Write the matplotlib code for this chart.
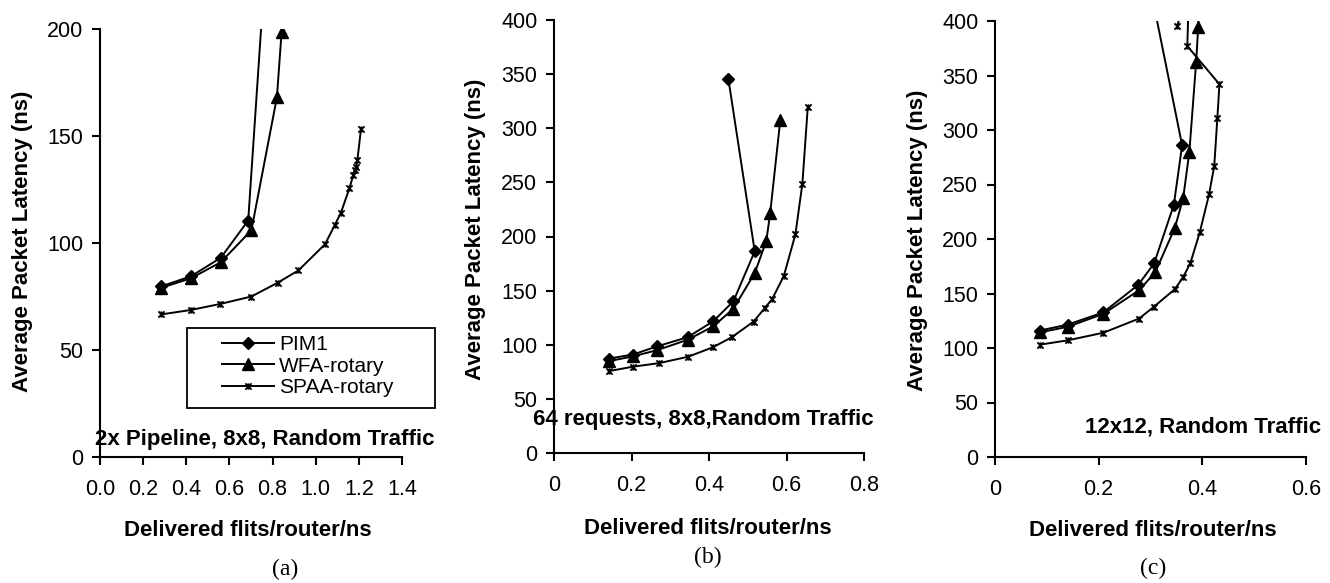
import matplotlib
matplotlib.use('Agg')
import matplotlib.pyplot as plt
from matplotlib.path import Path
from matplotlib.patches import Rectangle

plt.rcParams['font.family'] = ['Liberation Sans', 'DejaVu Sans']

# panel (a): 2x Pipeline, 8x8
a_pim_x = [0.282, 0.421, 0.560, 0.687, 0.780]
a_pim_y = [79.7, 84.4, 93.1, 110.5, 250]
a_wfa_x = [0.282, 0.421, 0.560, 0.702, 0.820, 0.842]
a_wfa_y = [79.0, 83.5, 91.0, 106.0, 168.0, 198.8]
a_spaa_x = [0.282, 0.421, 0.557, 0.702, 0.823, 0.920, 1.043, 1.089, 1.117,
            1.156, 1.174, 1.182, 1.187, 1.193, 1.210]
a_spaa_y = [66.6, 68.7, 71.5, 75.0, 81.4, 87.2, 99.4, 108.5, 114.2,
            125.5, 131.6, 134.3, 135.7, 138.6, 153.4]

# panel (b): 64 requests, 8x8
b_pim_x = [0.141, 0.203, 0.266, 0.345, 0.411, 0.463, 0.518, 0.450]
b_pim_y = [87.2, 90.9, 98.5, 107.0, 121.7, 140.2, 186.3, 345.6]
b_wfa_x = [0.141, 0.203, 0.266, 0.345, 0.411, 0.463, 0.518, 0.548, 0.558, 0.584]
b_wfa_y = [84.8, 89.2, 95.0, 104.6, 117.0, 133.3, 166.2, 196.0, 222.0, 307.7]
b_spaa_x = [0.141, 0.203, 0.271, 0.346, 0.411, 0.459, 0.515, 0.545, 0.563,
            0.593, 0.623, 0.641, 0.655]
b_spaa_y = [75.6, 79.7, 83.0, 88.9, 97.8, 107.0, 121.4, 134.4, 142.2,
            163.4, 202.0, 248.9, 320.0]

# panel (c): 12x12
c_pim_x = [0.086, 0.140, 0.209, 0.276, 0.307, 0.345, 0.361, 0.300]
c_pim_y = [116.0, 121.4, 132.7, 157.8, 177.6, 231.3, 286.0, 430.0]
c_wfa_x = [0.086, 0.140, 0.209, 0.278, 0.309, 0.347, 0.363, 0.375, 0.388, 0.392, 0.395]
c_wfa_y = [114.3, 119.4, 131.3, 153.0, 169.4, 210.2, 237.4, 280.0, 362.0, 394.5, 440.0]
c_spaa_x = [0.086, 0.140, 0.209, 0.278, 0.307, 0.347, 0.363, 0.377, 0.395,
            0.413, 0.423, 0.429, 0.433, 0.371, 0.375, 0.352]
c_spaa_y = [103.0, 107.0, 114.0, 127.0, 138.0, 154.0, 165.0, 178.0, 206.0,
            241.0, 267.0, 311.0, 342.0, 377.0, 440.0, 395.4]

series_names = ['PIM1', 'WFA-rotary', 'SPAA-rotary']

# asterisk-like marker like the spreadsheet "star"
star = Path([(-1, -1), (1, 1), (-1, 1), (1, -1), (0, -1), (0, 1)],
            [Path.MOVETO, Path.LINETO, Path.MOVETO, Path.LINETO, Path.MOVETO, Path.LINETO])
styles = [dict(marker='D', ms=6.5), dict(marker='^', ms=8.5), dict(marker=star, ms=4.5, mew=1.3)]

W, H = 1330, 583
fig = plt.figure(figsize=(13.3, 5.83), dpi=100)

def px(x0, y0, x1, y1):
    return [x0 / W, 1 - y1 / H, (x1 - x0) / W, (y1 - y0) / H]

panels = [
    dict(rect=px(100, 29, 402, 457), xlim=1.4, ylim=200, xt=[0, .2, .4, .6, .8, 1.0, 1.2, 1.4],
         xl=['0.0', '0.2', '0.4', '0.6', '0.8', '1.0', '1.2', '1.4'], yt=range(0, 201, 50),
         data=[(a_pim_x, a_pim_y), (a_wfa_x, a_wfa_y), (a_spaa_x, a_spaa_y)],
         ylab=(33, 241), xlab=(248, 520), cap=('(a)', 285, 569),
         note=('2x Pipeline, 8x8, Random Traffic', 95, 439)),
    dict(rect=px(554, 20, 864, 453), xlim=0.8, ylim=400, xt=[0, .2, .4, .6, .8],
         xl=['0', '0.2', '0.4', '0.6', '0.8'], yt=range(0, 401, 50),
         data=[(b_pim_x, b_pim_y), (b_wfa_x, b_wfa_y), (b_spaa_x, b_spaa_y)],
         ylab=(486, 229), xlab=(708, 518), cap=('(b)', 708, 557),
         note=('64 requests, 8x8,Random Traffic', 533, 419)),
    dict(rect=px(995, 21, 1306, 457), xlim=0.6, ylim=400, xt=[0, .2, .4, .6],
         xl=['0', '0.2', '0.4', '0.6'], yt=range(0, 401, 50),
         data=[(c_pim_x, c_pim_y), (c_wfa_x, c_wfa_y), (c_spaa_x, c_spaa_y)],
         ylab=(928, 240), xlab=(1153, 520), cap=('(c)', 1153, 568),
         note=('12x12, Random Traffic', 1085, 427)),
]

for p in panels:
    ax = fig.add_axes(p['rect'])
    for (xs, ys), st, name in zip(p['data'], styles, series_names):
        ax.plot(xs, ys, color='black', lw=1.4, mfc='black', mec='black', label=name, **st)
    ax.set_xlim(0, p['xlim'])
    ax.set_ylim(0, p['ylim'])
    ax.set_xticks(p['xt'])
    ax.set_xticklabels(p['xl'])
    ax.set_yticks(list(p['yt']))
    for s in ['top', 'right']:
        ax.spines[s].set_visible(False)
    for s in ['left', 'bottom']:
        ax.spines[s].set_linewidth(1.5)
    ax.tick_params(axis='both', direction='out', length=6, width=1.5, labelsize=15.5)
    ax.tick_params(axis='x', pad=10)
    ax.tick_params(axis='y', pad=6)
    ax.set_ylabel('Average Packet Latency (ns)', fontsize=16, fontweight='bold')
    ax.yaxis.set_label_coords(p['ylab'][0] / W, 1 - p['ylab'][1] / H, transform=fig.transFigure)
    ax.set_xlabel('Delivered flits/router/ns', fontsize=16, fontweight='bold')
    ax.xaxis.set_label_coords(p['xlab'][0] / W, 1 - p['xlab'][1] / H, transform=fig.transFigure)
    txt, tx, ty = p['note']
    fig.text(tx / W, 1 - ty / H, txt, fontsize=16, fontweight='bold', ha='left', va='center')
    cap, cx, cy = p['cap']
    fig.text(cx / W, 1 - cy / H, cap, fontsize=17, ha='center', va='center',
             family='Liberation Serif')
    if p is panels[0]:
        fig.patches.append(Rectangle((187 / W, 1 - 408 / H), 248 / W, 80 / H, fill=False,
                                     ec='black', lw=1.3, transform=fig.transFigure, figure=fig))
        ax.legend(loc='upper left', bbox_to_anchor=(222 / W, 1 - 335 / H),
                  bbox_transform=fig.transFigure, frameon=False, fontsize=15,
                  borderpad=0, handlelength=2.5, handletextpad=0.25, labelspacing=0.12,
                  borderaxespad=0)

fig.savefig('out.png', dpi=100)
